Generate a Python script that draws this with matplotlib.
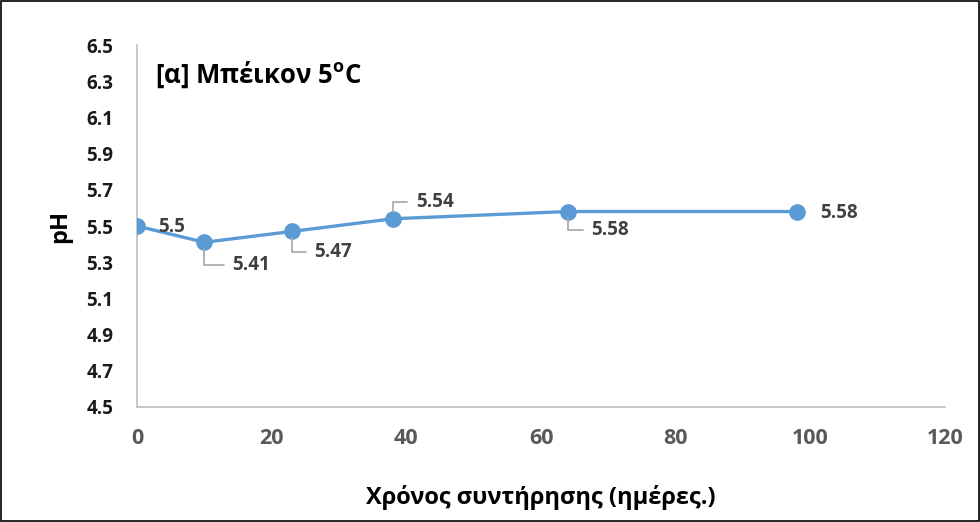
import matplotlib
matplotlib.use("Agg")
import matplotlib.pyplot as plt
from matplotlib.patches import Rectangle

plt.rcParams['font.family'] = ['Open Sans', 'DejaVu Sans']
plt.rcParams['mathtext.fontset'] = 'custom'
plt.rcParams['mathtext.rm'] = 'Open Sans'
plt.rcParams['mathtext.bf'] = 'Open Sans:bold'

days = [0, 10, 23, 38, 64, 98]
ph = [5.5, 5.41, 5.47, 5.54, 5.58, 5.58]
labels = ["5.5", "5.41", "5.47", "5.54", "5.58", "5.58"]
# label offsets in points (dx, dy) and whether a leader line is drawn
offsets = [(15, -1), (20, -16.5), (16, -15), (16.5, 12), (16.5, -13), (16.5, -1)]
leaders = [False, True, True, True, True, False]
yticks = [4.5, 4.7, 4.9, 5.1, 5.3, 5.5, 5.7, 5.9, 6.1, 6.3, 6.5]
xticks = [0, 20, 40, 60, 80, 100, 120]

fig = plt.figure(figsize=(9.8, 5.22), dpi=100)
fig.patches.append(Rectangle((0.001, 0.002), 0.998, 0.996, transform=fig.transFigure,
                             fill=False, edgecolor='black', linewidth=1.2))
ax = fig.add_axes([137/980, 1-407/522, (945-137)/980, (407-45)/522])

line_color = '#5B9BD5'
ax.plot(days, ph, color=line_color, linewidth=2.4, marker='o', markersize=11, zorder=3)

for x, y, lab, (dx, dy), ld in zip(days, ph, labels, offsets, leaders):
    kw = dict(xy=(x, y), xytext=(dx, dy), textcoords='offset points',
              ha='left', va='center', fontsize=13.5, fontweight='bold', color='#404040')
    if ld:
        kw['arrowprops'] = dict(arrowstyle='-', color='#A6A6A6', lw=1.2,
                                connectionstyle='angle,angleA=0,angleB=90,rad=0',
                                relpos=(0, 0.5), shrinkA=4, shrinkB=5)
    ax.annotate(lab, **kw)

ax.set_xlim(0, 120)
ax.set_ylim(4.5, 6.5)
ax.set_xticks(xticks)
ax.set_yticks(yticks)
ax.set_xticklabels([str(v) for v in xticks], fontsize=15.5, fontweight='bold', color='#595959')
ax.set_yticklabels([f"{v:.1f}" for v in yticks], fontsize=13.5, fontweight='bold', color='#1a1a1a')
ax.tick_params(axis='both', length=0)
ax.tick_params(axis='x', pad=15)
ax.tick_params(axis='y', pad=17)

for s in ['top', 'right']:
    ax.spines[s].set_visible(False)
for s in ['left', 'bottom']:
    ax.spines[s].set_color('#BFBFBF')
    ax.spines[s].set_linewidth(1.2)

ax.set_ylabel('pH', fontsize=17, fontweight='bold', color='black', labelpad=10)
ax.set_xlabel('Χρόνος συντήρησης (ημέρες.)', fontsize=17, fontweight='bold', color='black', labelpad=26)

ax.text(0.022, 0.917, r'[α] Μπέικον 5$^{\mathbf{o}}$C', transform=ax.transAxes,
        fontsize=18.5, fontweight='bold', color='black', ha='left', va='center')

fig.savefig('out.png', dpi=100)
